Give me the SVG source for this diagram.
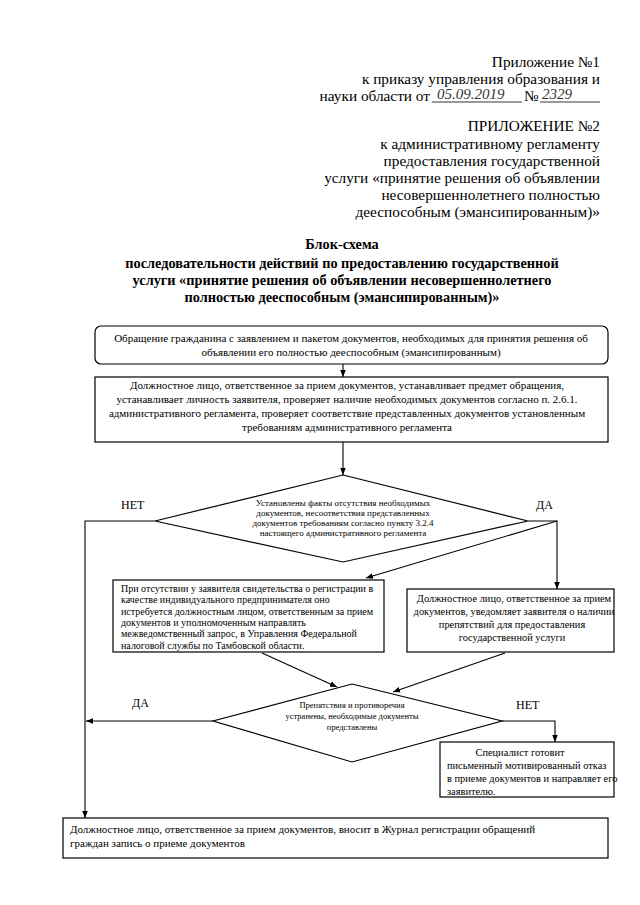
<svg xmlns="http://www.w3.org/2000/svg" width="640" height="905" viewBox="0 0 640 905">
<style>
text{font-family:"Liberation Serif","Times New Roman",serif;fill:#000}
.hdr{font-size:15.3px;text-anchor:end}
.ttl{font-size:14.3px;font-weight:bold;text-anchor:middle}
.bx{fill:#fff;stroke:#000;stroke-width:1.2}
.t{font-size:11px}
.t2{font-size:10.4px}
.c{text-anchor:middle}
.s{font-size:10px}
.d{font-size:9px;text-anchor:middle}
.d2{font-size:8.5px;text-anchor:middle}
.lbl{font-size:12px}
.hw{font-style:italic;font-size:15px;fill:#333}
.cn line,.cn polyline{stroke:#000;stroke-width:1.1;fill:none}
</style>
<defs>
<marker id="ah" viewBox="0 0 10 10" refX="10" refY="5" markerWidth="7" markerHeight="7" orient="auto" markerUnits="userSpaceOnUse">
<path d="M0,1 L10,5 L0,9 z" fill="#000"/>
</marker>
</defs>
<rect width="640" height="905" fill="#fff"/>

<g id="header">
<text class="hdr" x="600" y="67">Приложение №1</text>
<text class="hdr" x="600" y="84">к приказу управления образования и</text>
<text class="hdr" x="430" y="101">науки области от</text>
<text class="hw" x="437" y="99">05.09.2019</text>
<line x1="432" y1="102" x2="522" y2="102" stroke="#000" stroke-width="0.8"/>
<text x="524" y="101" style="font-size:15.3px">№</text>
<text class="hw" x="542" y="99">2329</text>
<line x1="540" y1="102" x2="600" y2="102" stroke="#000" stroke-width="0.8"/>
<text class="hdr" x="600" y="131">ПРИЛОЖЕНИЕ №2</text>
<text class="hdr" x="600" y="149">к административному регламенту</text>
<text class="hdr" x="600" y="166">предоставления государственной</text>
<text class="hdr" x="600" y="183">услуги «принятие решения об объявлении</text>
<text class="hdr" x="600" y="200">несовершеннолетнего полностью</text>
<text class="hdr" x="600" y="217">дееспособным (эмансипированным)»</text>
</g>

<g id="title">
<text class="ttl" x="342" y="249">Блок-схема</text>
<text class="ttl" x="342" y="268">последовательности действий по предоставлению государственной</text>
<text class="ttl" x="342" y="285">услуги «принятие решения об объявлении несовершеннолетнего</text>
<text class="ttl" x="342" y="302">полностью дееспособным (эмансипированным)»</text>
</g>

<g id="n1">
<rect class="bx" x="95" y="326" width="513" height="38" rx="6"/>
<text class="t c" x="351" y="342">Обращение гражданина с заявлением и  пакетом документов, необходимых для принятия решения об</text>
<text class="t c" x="351" y="356">объявлении его полностью дееспособным (эмансипированным)</text>
</g>

<g id="n2">
<rect class="bx" x="95" y="377" width="513" height="65"/>
<text class="t c" x="347" y="389">Должностное лицо, ответственное за прием документов, устанавливает предмет обращения,</text>
<text class="t c" x="347" y="403">устанавливает личность заявителя, проверяет наличие необходимых документов согласно п. 2.6.1.</text>
<text class="t c" x="347" y="417">административного регламента, проверяет соответствие представленных документов установленным</text>
<text class="t c" x="347" y="431">требованиям административного регламента</text>
</g>

<g id="d1">
<polygon class="bx" points="343,475 528,521 343,562 155,521"/>
<text class="d" x="343" y="506">Установлены факты отсутствия необходимых</text>
<text class="d" x="343" y="516">документов, несоответствия представленных</text>
<text class="d" x="343" y="526">документов требованиям согласно пункту 3.2.4</text>
<text class="d" x="343" y="536">настоящего административного регламента</text>
</g>

<g id="n3">
<rect class="bx" x="113" y="580" width="271" height="72"/>
<text class="s" x="121" y="592">При отсутствии у заявителя свидетельства о регистрации в</text>
<text class="s" x="121" y="603">качестве  индивидуального предпринимателя оно</text>
<text class="s" x="121" y="615">истребуется должностным лицом, ответственным за прием</text>
<text class="s" x="121" y="626">документов и уполномоченным направлять</text>
<text class="s" x="121" y="637">межведомственный запрос, в Управления  Федеральной</text>
<text class="s" x="121" y="649">налоговой службы по  Тамбовской области.</text>
</g>

<g id="n4">
<rect class="bx" x="407" y="589" width="207" height="63"/>
<text class="t2 c" x="514" y="602">Должностное лицо, ответственное за прием</text>
<text class="t2 c" x="514" y="615">документов, уведомляет заявителя о наличии</text>
<text class="t2 c" x="512" y="628">препятствий для предоставления</text>
<text class="t2 c" x="512" y="641">государственной услуги</text>
</g>

<g id="d2">
<polygon class="bx" points="352,684 502,721 352,762 213,721"/>
<text class="d2" x="352" y="708">Препятствия и противоречия</text>
<text class="d2" x="352" y="719">устранены, необходимые документы</text>
<text class="d2" x="352" y="730">представлены</text>
</g>

<g id="n5">
<rect class="bx" x="440" y="742" width="174" height="55"/>
<text class="t2 c" x="520" y="756">Специалист готовит</text>
<text class="t2" x="447" y="769">письменный мотивированный отказ</text>
<text class="t2" x="447" y="782">в приеме документов и направляет его</text>
<text class="t2" x="447" y="795">заявителю.</text>
</g>

<g id="n6">
<rect class="bx" x="63" y="818" width="545" height="40"/>
<text class="t" x="70" y="833">Должностное лицо, ответственное за прием документов, вносит в Журнал регистрации обращений</text>
<text class="t" x="70" y="847">граждан запись о приеме документов</text>
</g>

<g id="labels">
<text class="lbl" x="121" y="509">НЕТ</text>
<text class="lbl" x="536" y="509">ДА</text>
<text class="lbl" x="132" y="707">ДА</text>
<text class="lbl" x="516" y="709">НЕТ</text>
</g>

<g id="connectors" class="cn">
<line x1="343" y1="364" x2="343" y2="377" marker-end="url(#ah)"/>
<line x1="343" y1="442" x2="343" y2="475" marker-end="url(#ah)"/>
<polyline points="155,521 85,521 85,818" marker-end="url(#ah)"/>
<polyline points="528,521 557,521 557,589" marker-end="url(#ah)"/>
<line x1="557" y1="521" x2="366" y2="578" marker-end="url(#ah)"/>
<line x1="262" y1="653" x2="337" y2="687" marker-end="url(#ah)"/>
<line x1="505" y1="653" x2="393" y2="692" marker-end="url(#ah)"/>
<line x1="213" y1="721" x2="86" y2="721" marker-end="url(#ah)"/>
<polyline points="502,721 555,721 555,742" marker-end="url(#ah)"/>
</g>
</svg>
